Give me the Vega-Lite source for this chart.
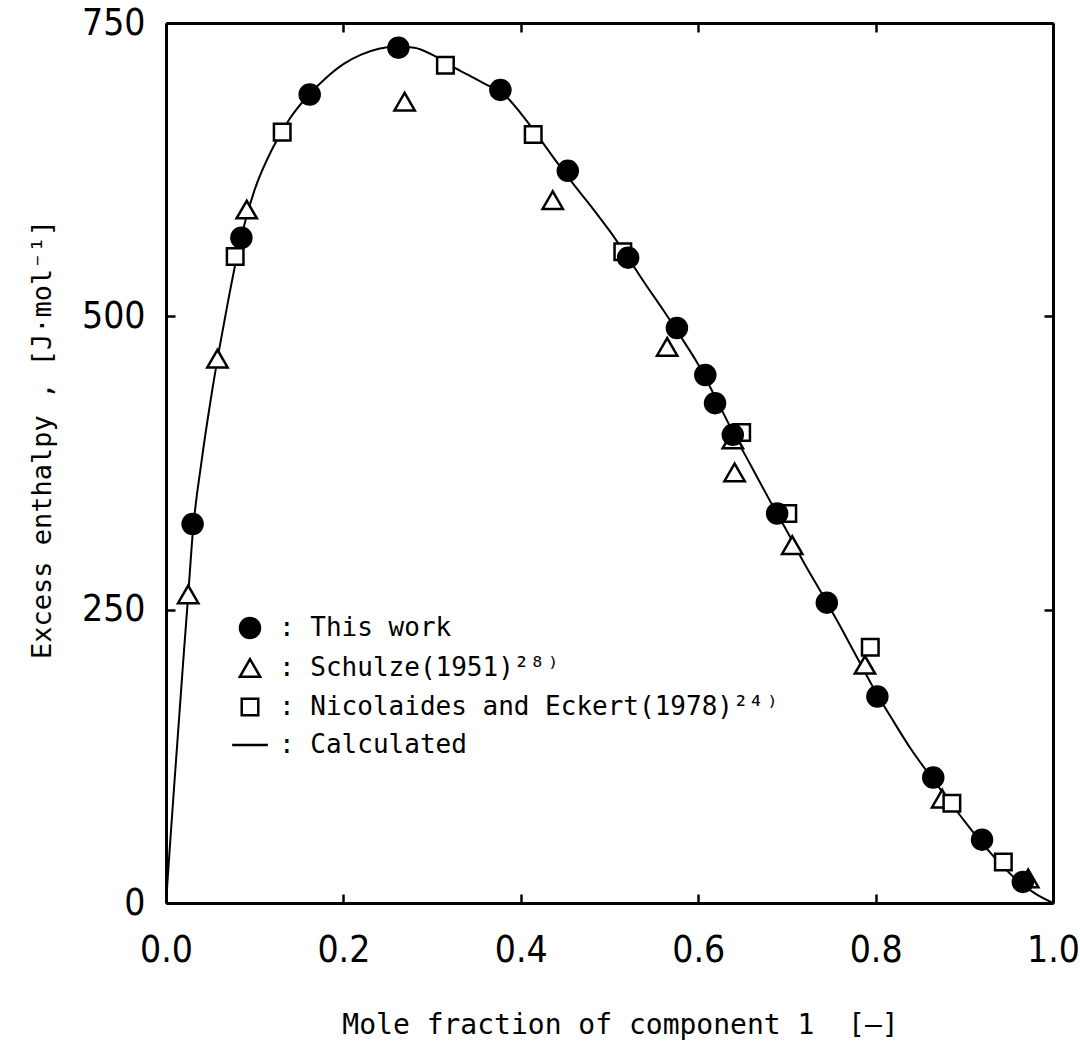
{
  "$schema": "https://vega.github.io/schema/vega-lite/v6.json",
  "width": 887,
  "height": 880,
  "autosize": {"type": "none"},
  "padding": {"left": 166, "top": 23, "right": 27, "bottom": 142},
  "background": "white",
  "config": {"view": {"stroke": null}, "font": "DejaVu Sans Mono"},
  "datasets": {
    "curve": [
      {"x": 0, "y": 0}, {"x": 0.005, "y": 55}, {"x": 0.01, "y": 108}, {"x": 0.015, "y": 160},
      {"x": 0.02, "y": 212}, {"x": 0.025, "y": 262}, {"x": 0.03, "y": 314}, {"x": 0.04, "y": 376},
      {"x": 0.05, "y": 427}, {"x": 0.06, "y": 472}, {"x": 0.07, "y": 513}, {"x": 0.08, "y": 551},
      {"x": 0.09, "y": 583}, {"x": 0.10, "y": 608}, {"x": 0.12, "y": 643}, {"x": 0.14, "y": 669},
      {"x": 0.16, "y": 688}, {"x": 0.18, "y": 703}, {"x": 0.20, "y": 715}, {"x": 0.22, "y": 723},
      {"x": 0.24, "y": 728}, {"x": 0.26, "y": 730}, {"x": 0.28, "y": 729}, {"x": 0.30, "y": 723},
      {"x": 0.32, "y": 714}, {"x": 0.34, "y": 706}, {"x": 0.36, "y": 698}, {"x": 0.38, "y": 690},
      {"x": 0.40, "y": 673}, {"x": 0.42, "y": 653}, {"x": 0.44, "y": 632}, {"x": 0.46, "y": 612},
      {"x": 0.48, "y": 593}, {"x": 0.50, "y": 573}, {"x": 0.52, "y": 551}, {"x": 0.54, "y": 528},
      {"x": 0.56, "y": 506}, {"x": 0.58, "y": 483}, {"x": 0.60, "y": 459}, {"x": 0.62, "y": 430},
      {"x": 0.64, "y": 400}, {"x": 0.66, "y": 372}, {"x": 0.68, "y": 344}, {"x": 0.70, "y": 317},
      {"x": 0.72, "y": 289}, {"x": 0.74, "y": 263}, {"x": 0.76, "y": 236}, {"x": 0.78, "y": 208},
      {"x": 0.80, "y": 180}, {"x": 0.82, "y": 155}, {"x": 0.84, "y": 131}, {"x": 0.86, "y": 110},
      {"x": 0.88, "y": 90}, {"x": 0.90, "y": 70}, {"x": 0.92, "y": 51}, {"x": 0.94, "y": 34},
      {"x": 0.96, "y": 19}, {"x": 0.98, "y": 8}, {"x": 1.0, "y": 0}
    ],
    "points": [
      {"series": "Schulze(1951)²⁸⁾", "x": 0.025, "y": 263},
      {"series": "Schulze(1951)²⁸⁾", "x": 0.058, "y": 464},
      {"series": "Schulze(1951)²⁸⁾", "x": 0.091, "y": 591},
      {"series": "Schulze(1951)²⁸⁾", "x": 0.269, "y": 683},
      {"series": "Schulze(1951)²⁸⁾", "x": 0.436, "y": 599},
      {"series": "Schulze(1951)²⁸⁾", "x": 0.565, "y": 474},
      {"series": "Schulze(1951)²⁸⁾", "x": 0.639, "y": 395},
      {"series": "Schulze(1951)²⁸⁾", "x": 0.641, "y": 367},
      {"series": "Schulze(1951)²⁸⁾", "x": 0.706, "y": 305},
      {"series": "Schulze(1951)²⁸⁾", "x": 0.788, "y": 203},
      {"series": "Schulze(1951)²⁸⁾", "x": 0.875, "y": 89},
      {"series": "Schulze(1951)²⁸⁾", "x": 0.972, "y": 21},
      {"series": "Nicolaides and Eckert(1978)²⁴⁾", "x": 0.078, "y": 551},
      {"series": "Nicolaides and Eckert(1978)²⁴⁾", "x": 0.131, "y": 657},
      {"series": "Nicolaides and Eckert(1978)²⁴⁾", "x": 0.315, "y": 714},
      {"series": "Nicolaides and Eckert(1978)²⁴⁾", "x": 0.414, "y": 655},
      {"series": "Nicolaides and Eckert(1978)²⁴⁾", "x": 0.515, "y": 555},
      {"series": "Nicolaides and Eckert(1978)²⁴⁾", "x": 0.649, "y": 401},
      {"series": "Nicolaides and Eckert(1978)²⁴⁾", "x": 0.701, "y": 332},
      {"series": "Nicolaides and Eckert(1978)²⁴⁾", "x": 0.794, "y": 218},
      {"series": "Nicolaides and Eckert(1978)²⁴⁾", "x": 0.886, "y": 85},
      {"series": "Nicolaides and Eckert(1978)²⁴⁾", "x": 0.944, "y": 35},
      {"series": "This work", "x": 0.030, "y": 323},
      {"series": "This work", "x": 0.085, "y": 567},
      {"series": "This work", "x": 0.162, "y": 689},
      {"series": "This work", "x": 0.262, "y": 729},
      {"series": "This work", "x": 0.377, "y": 693},
      {"series": "This work", "x": 0.453, "y": 624},
      {"series": "This work", "x": 0.521, "y": 550},
      {"series": "This work", "x": 0.576, "y": 490},
      {"series": "This work", "x": 0.608, "y": 450},
      {"series": "This work", "x": 0.619, "y": 426},
      {"series": "This work", "x": 0.639, "y": 399},
      {"series": "This work", "x": 0.689, "y": 332},
      {"series": "This work", "x": 0.745, "y": 256},
      {"series": "This work", "x": 0.802, "y": 176},
      {"series": "This work", "x": 0.865, "y": 107},
      {"series": "This work", "x": 0.920, "y": 54},
      {"series": "This work", "x": 0.966, "y": 18}
    ]
  },
  "layer": [
    {
      "data": {"name": "curve"},
      "mark": {"type": "line", "color": "black", "strokeWidth": 2, "interpolate": "monotone"},
      "encoding": {
        "x": {
          "field": "x", "type": "quantitative",
          "scale": {"domain": [0, 1], "nice": false, "zero": false},
          "axis": {
            "orient": "bottom", "values": [0, 0.2, 0.4, 0.6, 0.8, 1], "format": ".1f",
            "labelFont": "Liberation Sans Narrow, DejaVu Sans Condensed, sans-serif",
            "labelFontSize": 37, "labelColor": "black", "labelPadding": 38,
            "labelFlush": false, "labelOverlap": false,
            "tickSize": -9, "tickWidth": 2.5, "tickColor": "black",
            "domain": true, "domainColor": "black", "domainWidth": 3, "grid": false,
            "title": "Mole fraction of component 1\u00a0\u00a0[—]",
            "titleFont": "DejaVu Sans Mono", "titleFontSize": 28, "titleFontWeight": "normal",
            "titleColor": "black", "titleX": 454, "titleY": 130,
            "titleBaseline": "alphabetic", "titleAlign": "center", "titleAnchor": null
          }
        },
        "y": {
          "field": "y", "type": "quantitative",
          "scale": {"domain": [0, 750], "nice": false},
          "axis": {
            "orient": "left", "values": [0, 250, 500, 750], "format": "d",
            "labelFont": "Liberation Sans Narrow, DejaVu Sans Condensed, sans-serif",
            "labelFontSize": 37, "labelColor": "black", "labelPadding": 30,
            "labelFlush": false, "labelOverlap": false,
            "tickSize": -9, "tickWidth": 2.5, "tickColor": "black",
            "domain": true, "domainColor": "black", "domainWidth": 3, "grid": false,
            "title": "Excess enthalpy , [J·mol⁻¹]",
            "titleFont": "DejaVu Sans Mono", "titleFontSize": 27, "titleFontWeight": "normal",
            "titleColor": "black", "titleAngle": -90, "titleX": -116, "titleY": 416,
            "titleBaseline": "alphabetic", "titleAlign": "center", "titleAnchor": null
          }
        }
      }
    },
    {
      "data": {"name": "points"},
      "mark": {"type": "point", "filled": true, "stroke": "black", "strokeWidth": 2.5, "opacity": 1, "fillOpacity": 1},
      "encoding": {
        "x": {
          "field": "x", "type": "quantitative",
          "scale": {"domain": [0, 1], "nice": false, "zero": false},
          "axis": {
            "orient": "top", "values": [0, 0.2, 0.4, 0.6, 0.8, 1], "labels": false, "title": null,
            "tickSize": -9, "tickWidth": 2.5, "tickColor": "black",
            "domain": true, "domainColor": "black", "domainWidth": 3, "grid": false
          }
        },
        "y": {
          "field": "y", "type": "quantitative",
          "scale": {"domain": [0, 750], "nice": false},
          "axis": {
            "orient": "right", "values": [0, 250, 500, 750], "labels": false, "title": null,
            "tickSize": -9, "tickWidth": 2.5, "tickColor": "black",
            "domain": true, "domainColor": "black", "domainWidth": 3, "grid": false
          }
        },
        "shape": {
          "field": "series", "type": "nominal",
          "scale": {"domain": ["This work", "Schulze(1951)²⁸⁾", "Nicolaides and Eckert(1978)²⁴⁾", "Calculated"], "range": ["circle", "triangle-up", "M-0.8,-0.8H0.8V0.8H-0.8Z", "M-1.7,0H1.7"]},
          "legend": {
            "orient": "none", "legendX": 71, "legendY": 592, "title": null,
            "labelFont": "DejaVu Sans Mono", "labelFontSize": 26, "labelColor": "black",
            "labelExpr": "': ' + datum.label", "labelLimit": 0,
            "symbolStrokeColor": "black", "symbolStrokeWidth": 2.5, "symbolOpacity": 1,
            "rowPadding": 11, "labelOffset": 16,
            "encode": {"symbols": {"update": {"stroke": {"value": "black"}, "strokeWidth": {"value": 2.5}, "opacity": {"value": 1}}}}
          }
        },
        "fill": {
          "field": "series", "type": "nominal",
          "scale": {"domain": ["This work", "Schulze(1951)²⁸⁾", "Nicolaides and Eckert(1978)²⁴⁾", "Calculated"], "range": ["black", "white", "white", "black"]},
          "legend": {
            "orient": "none", "legendX": 71, "legendY": 592, "title": null,
            "labelFont": "DejaVu Sans Mono", "labelFontSize": 26, "labelColor": "black",
            "labelExpr": "': ' + datum.label", "labelLimit": 0,
            "symbolStrokeColor": "black", "symbolStrokeWidth": 2.5, "symbolOpacity": 1,
            "rowPadding": 11, "labelOffset": 16,
            "encode": {"symbols": {"update": {"stroke": {"value": "black"}, "strokeWidth": {"value": 2.5}, "opacity": {"value": 1}}}}
          }
        },
        "size": {
          "field": "series", "type": "nominal",
          "scale": {"domain": ["This work", "Schulze(1951)²⁸⁾", "Nicolaides and Eckert(1978)²⁴⁾", "Calculated"], "range": [400, 441, 400, 400]},
          "legend": {
            "orient": "none", "legendX": 71, "legendY": 592, "title": null,
            "labelFont": "DejaVu Sans Mono", "labelFontSize": 26, "labelColor": "black",
            "labelExpr": "': ' + datum.label", "labelLimit": 0,
            "symbolStrokeColor": "black", "symbolStrokeWidth": 2.5, "symbolOpacity": 1,
            "rowPadding": 11, "labelOffset": 16,
            "encode": {"symbols": {"update": {"stroke": {"value": "black"}, "strokeWidth": {"value": 2.5}, "opacity": {"value": 1}}}}
          }
        }
      }
    }
  ]
}
